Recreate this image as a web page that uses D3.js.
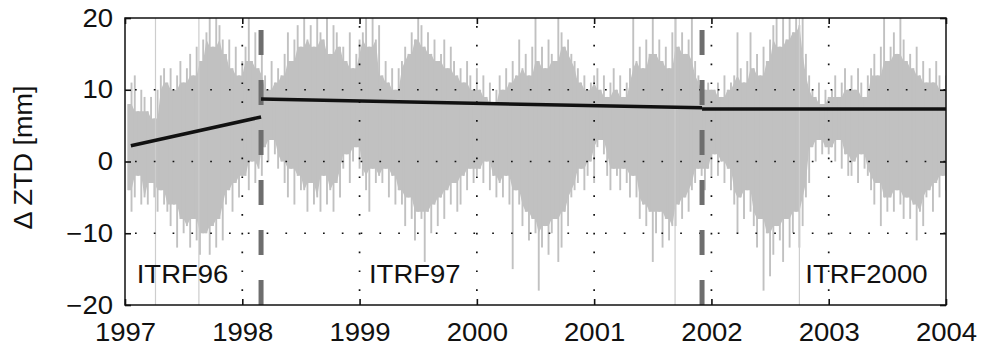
<!DOCTYPE html>
<html>
<head>
<meta charset="utf-8">
<script src="https://cdn.jsdelivr.net/npm/d3@7"></script>
<style>
  body { margin: 0; background: #fff; }
  text { font-family: "Liberation Sans", Arial, Helvetica, sans-serif; fill: #111; }
</style>
</head>
<body>
<svg id="ztd" width="984" height="347"></svg>
<script>
// samples per year for the gray series (read as upper/lower excursions per ~10 days)
const samplesPerYear = 36;
const firstYear = 1997;

const hiValues = [
  8, 11, 12, 7, 10, 9, 7, 9, 6, 10, 12, 13, 11, 13, 10, 12, 14, 11, 13, 15, 12, 16, 14, 17, 18, 20, 16, 20, 19, 17, 15, 17, 13, 16, 12, 14,
  16, 20, 14, 18, 13, 15, 12, 10, 14, 11, 13, 12, 15, 18, 14, 17, 19, 16, 20, 17, 19, 16, 20, 18, 17, 20, 15, 19, 18, 16, 16, 14, 18, 13, 15, 17,
  18, 20, 16, 20, 17, 19, 12, 14, 11, 13, 10, 13, 14, 16, 15, 18, 17, 20, 19, 16, 18, 15, 17, 14, 15, 17, 13, 16, 14, 12, 13, 11, 14, 12, 10, 13,
  10, 12, 9, 11, 8, 10, 12, 10, 13, 11, 14, 12, 17, 13, 15, 12, 16, 20, 14, 16, 13, 17, 15, 14, 20, 18, 16, 17, 15, 14, 13, 11, 12, 10, 11, 12,
  13, 10, 12, 9, 11, 13, 10, 12, 9, 11, 13, 20, 14, 16, 13, 17, 15, 20, 15, 17, 14, 16, 13, 18, 20, 16, 18, 15, 17, 20, 14, 12, 11, 10, 11, 10,
  10, 11, 9, 12, 10, 11, 12, 18, 13, 11, 14, 18, 13, 15, 12, 16, 14, 17, 19, 20, 16, 20, 17, 20, 18, 20, 19, 20, 15, 12, 10, 9, 11, 8, 10, 9,
  10, 12, 9, 11, 13, 10, 12, 10, 13, 11, 9, 12, 13, 15, 12, 16, 20, 14, 16, 18, 15, 20, 17, 14, 15, 13, 16, 12, 14, 11, 13, 11, 14, 12, 10, 12
];

const loValues = [
  -4, -7, -5, -2, -6, -5, -6, -3, -5, -7, -4, -6, -7, -9, -6, -12, -8, -10, -9, -12, -8, -11, -13, -10, -10, -13, -9, -12, -8, -11, -6, -4, -7, -3, -5, -2,
  -2, -4, 0, -3, -1, -2, 2, 0, 3, 1, -1, 0, -3, -5, -1, -6, -2, -4, -4, -7, -3, -6, -5, -7, -2, -6, -4, -7, -3, -5, -1, 1, -3, 0, 2, -1,
  -2, -4, -7, -1, -3, -2, -3, -1, -5, -2, -6, -4, -6, -9, -5, -8, -11, -7, -8, -14, -7, -10, -6, -9, -5, -8, -4, -6, -3, -7, -6, -2, -4, -1, -3, -2,
  -1, -3, 0, -4, -2, -5, -3, -5, -2, -6, -15, -4, -6, -9, -7, -11, -8, -10, -18, -12, -9, -13, -10, -8, -14, -12, -7, -9, -5, -4, -3, -1, -4, -2, 0, -3,
  2, 3, 1, -2, -4, -1, -2, -4, -1, -3, -5, -2, -5, -8, -6, -9, -7, -14, -10, -7, -12, -8, -11, -9, -9, -6, -8, -5, -7, -4, -3, -1, -2, -4, -1, -2,
  1, -2, 0, -3, -1, -4, -6, -10, -5, -8, -4, -7, -9, -12, -8, -18, -10, -16, -13, -9, -11, -14, -8, -12, -10, -7, -12, -9, -5, -3, 2, 0, 3, 1, 2, 1,
  2, 0, 3, -1, 1, -2, -2, 0, -3, 1, -1, -2, -4, -6, -3, -9, -5, -7, -5, -7, -4, -6, -8, -5, -8, -6, -11, -7, -9, -5, -4, -7, -3, -5, -2, -4
];

// epochs where the series runs off the full scale
const outlierYears = [1997.26, 1997.63, 2001.69, 2002.75];

// reference frame changes and the fitted offsets/trends
const breakYears = [1998.16, 2001.92];
const trendStart = [1997.05, 1998.16, 2001.92];
const trendEnd = [1998.16, 2001.92, 2004.0];
const trendStartVal = [2.2, 8.7, 7.3];
const trendEndVal = [6.2, 7.5, 7.3];

const frameNames = ["ITRF96", "ITRF97", "ITRF2000"];
const frameLabelYears = [1997.10, 1999.08, 2002.80];
const frameLabelVal = -17;

const xTicks = [1997, 1998, 1999, 2000, 2001, 2002, 2003, 2004];
const yTicks = [-20, -10, 0, 10, 20];
const gridX = [1998, 1999, 2000, 2001, 2002, 2003];
const gridY = [-10, 0, 10];

const margin = {top: 18, right: 38, bottom: 42, left: 125};
const width = 984 - margin.left - margin.right;
const height = 347 - margin.top - margin.bottom;

const svg = d3.select("svg#ztd")
  .append("g")
  .attr("transform", "translate(" + margin.left + "," + margin.top + ")");

const x = d3.scaleLinear().domain([1997, 2004]).range([0, width]);
const y = d3.scaleLinear().domain([-20, 20]).range([height, 0]);

svg.append("clipPath")
  .attr("id", "plot-clip")
  .append("rect")
  .attr("width", width)
  .attr("height", height);

const plot = svg.append("g").attr("clip-path", "url(#plot-clip)");

// gray series: solid where neighbouring samples overlap, single spikes beyond
const n = Math.min(hiValues.length, loValues.length);
const step = 1 / samplesPerYear;
const samples = d3.range(n).map(i => {
  const a = Math.max(0, i - 1), b = Math.min(n - 1, i + 1);
  return {
    t: firstYear + (i + 1) * step,
    hi: hiValues[i],
    lo: loValues[i],
    coreHi: d3.min(hiValues.slice(a, b + 1)),
    coreLo: d3.max(loValues.slice(a, b + 1))
  };
});

plot.append("path")
  .datum(samples)
  .attr("fill", "#c1c1c1")
  .attr("d", d3.area().x(d => x(d.t)).y0(d => y(d.coreLo)).y1(d => y(d.coreHi)));

plot.selectAll("line.spike")
  .data(samples)
  .enter().append("line")
  .attr("class", "spike")
  .attr("x1", d => x(d.t)).attr("x2", d => x(d.t))
  .attr("y1", d => y(d.lo)).attr("y2", d => y(d.hi))
  .attr("stroke", "#c1c1c1")
  .attr("stroke-width", 1.9);

plot.selectAll("line.outlier")
  .data(outlierYears)
  .enter().append("line")
  .attr("class", "outlier")
  .attr("x1", d => x(d)).attr("x2", d => x(d))
  .attr("y1", y(20)).attr("y2", y(-20))
  .attr("stroke", "#cdcdcd")
  .attr("stroke-width", 1.2);

// dotted grid
svg.selectAll("line.gx")
  .data(gridX)
  .enter().append("line")
  .attr("class", "gx")
  .attr("x1", d => x(d)).attr("x2", d => x(d))
  .attr("y1", 0).attr("y2", height)
  .attr("stroke", "#111")
  .attr("stroke-width", 1.7)
  .attr("stroke-dasharray", "1.7,17.1")
  .attr("stroke-dashoffset", -8);

svg.selectAll("line.gy")
  .data(gridY)
  .enter().append("line")
  .attr("class", "gy")
  .attr("x1", 0).attr("x2", width)
  .attr("y1", d => y(d)).attr("y2", d => y(d))
  .attr("stroke", "#111")
  .attr("stroke-width", 1.7)
  .attr("stroke-dasharray", "1.7,17.1")
  .attr("stroke-dashoffset", -10);

// frame change markers
svg.selectAll("line.brk")
  .data(breakYears)
  .enter().append("line")
  .attr("class", "brk")
  .attr("x1", d => x(d)).attr("x2", d => x(d))
  .attr("y1", 0).attr("y2", height)
  .attr("stroke", "#6e6e6e")
  .attr("stroke-width", 5)
  .attr("stroke-dasharray", "25,25")
  .attr("stroke-dashoffset", 38);

// fitted trend segments
svg.selectAll("line.trend")
  .data(trendStart)
  .enter().append("line")
  .attr("class", "trend")
  .attr("x1", (d, i) => x(d))
  .attr("x2", (d, i) => x(trendEnd[i]))
  .attr("y1", (d, i) => y(trendStartVal[i]))
  .attr("y2", (d, i) => y(trendEndVal[i]))
  .attr("stroke", "#111")
  .attr("stroke-width", 3.5);

svg.selectAll("text.frame")
  .data(frameNames)
  .enter().append("text")
  .attr("class", "frame")
  .attr("transform", (d, i) => "translate(" + x(frameLabelYears[i]) + "," + y(frameLabelVal) + ") scale(1.1,1)")
  .style("font-size", "25px")
  .text(d => d);

// box and inward ticks
svg.append("rect")
  .attr("width", width)
  .attr("height", height)
  .attr("fill", "none")
  .attr("stroke", "#111")
  .attr("stroke-width", 1.5);

const fmt = d3.format("d");

const xAxis = svg.append("g")
  .attr("class", "axis axis--x")
  .attr("transform", "translate(0," + height + ")")
  .call(d3.axisBottom(x).tickValues(xTicks).tickFormat(fmt).tickSizeInner(-6).tickSizeOuter(0).tickPadding(18));

svg.append("g")
  .attr("class", "axis axis--x2")
  .call(d3.axisTop(x).tickValues(xTicks).tickFormat("").tickSizeInner(-6).tickSizeOuter(0));

const yAxis = svg.append("g")
  .attr("class", "axis axis--y")
  .call(d3.axisLeft(y).tickValues(yTicks).tickSizeInner(-6).tickSizeOuter(0).tickPadding(12));

svg.append("g")
  .attr("class", "axis axis--y2")
  .attr("transform", "translate(" + width + ",0)")
  .call(d3.axisRight(y).tickValues(yTicks).tickFormat("").tickSizeInner(-6).tickSizeOuter(0));

svg.selectAll(".axis path.domain").remove();
svg.selectAll(".axis line").attr("stroke", "#111").attr("stroke-width", 1.6);
svg.selectAll(".axis text")
  .attr("fill", "#111")
  .style("font-size", "25px")
  .style("font-family", "'Liberation Sans', Arial, Helvetica, sans-serif");
xAxis.selectAll("text").attr("transform", "scale(1.1,1)");
yAxis.selectAll("text").attr("transform", "translate(-12,0) scale(1.1,1) translate(12,0)");

svg.append("text")
  .attr("transform", "translate(-93," + (height / 2 - 4) + ") rotate(-90) scale(1.08,1)")
  .attr("text-anchor", "middle")
  .style("font-size", "25px")
  .text("\u0394 ZTD [mm]");
</script>
</body>
</html>
